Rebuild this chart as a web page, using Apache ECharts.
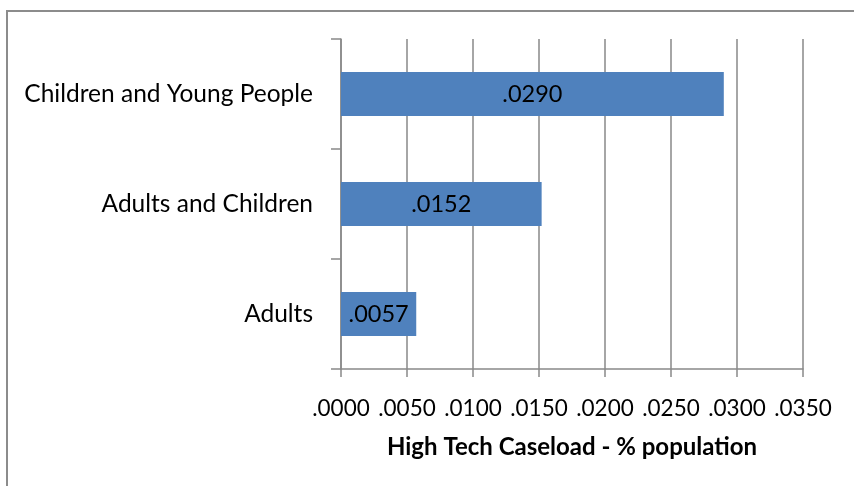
<!DOCTYPE html>
<html>
<head>
<meta charset="utf-8">
<script src="https://cdn.jsdelivr.net/npm/echarts@6/dist/echarts.min.js"></script>
<style>
  html, body { margin: 0; padding: 0; background: #ffffff; }
  #chart { width: 854px; height: 486px; }
</style>
</head>
<body>
<div id="chart"></div>
<script>
// Caseload groups, listed bottom to top along the category axis
const categories = ['Adults', 'Adults and Children', 'Children and Young People'];
const caseloadShare = [0.0057, 0.0152, 0.0290];
const axisMin = 0;
const axisMax = 0.035;
const axisStep = 0.005;
const axisTitle = 'High Tech Caseload - % population';

const FONT = 'Lato, "Open Sans", sans-serif';
const GRID_GREY = '#898989';

// ".0050" style: drop the leading zero
const fmt = v => Number(v).toFixed(4).replace(/^0/, '');

const chart = echarts.init(document.getElementById('chart'), null, { renderer: 'canvas' });

chart.setOption({
  animation: false,
  backgroundColor: '#ffffff',
  graphic: [{
    type: 'rect',
    shape: { x: 7, y: 11, width: 900, height: 520 },
    style: { fill: 'none', stroke: '#8c8c8c', lineWidth: 2 },
    silent: true
  }],
  grid: { left: 341, top: 39, right: 51, bottom: 117, containLabel: false },
  xAxis: {
    type: 'value',
    min: axisMin,
    max: axisMax,
    interval: axisStep,
    name: axisTitle,
    nameLocation: 'middle',
    nameGap: 66,
    nameTextStyle: { fontFamily: FONT, fontWeight: 'bold', fontSize: 24, color: '#000' },
    axisLine: { show: true, lineStyle: { color: GRID_GREY, width: 1.5 } },
    axisTick: { show: true, length: 8, lineStyle: { color: GRID_GREY, width: 1.5 } },
    splitLine: { show: true, lineStyle: { color: GRID_GREY, width: 1.5 } },
    axisLabel: { formatter: fmt, fontFamily: FONT, fontSize: 22.5, color: '#000', margin: 28 }
  },
  yAxis: {
    type: 'category',
    data: categories,
    axisLine: { show: true, lineStyle: { color: GRID_GREY, width: 1.5 } },
    axisTick: { show: true, length: 10, lineStyle: { color: GRID_GREY, width: 1.5 } },
    axisLabel: { fontFamily: FONT, fontSize: 24.5, color: '#000', margin: 28 }
  },
  series: [{
    type: 'bar',
    data: caseloadShare,
    barWidth: '40%',
    itemStyle: { color: '#4f81bd' },
    label: {
      show: true,
      position: 'inside',
      formatter: p => fmt(p.value),
      fontFamily: FONT,
      fontSize: 23.5,
      color: '#000'
    }
  }]
});
</script>
</body>
</html>
